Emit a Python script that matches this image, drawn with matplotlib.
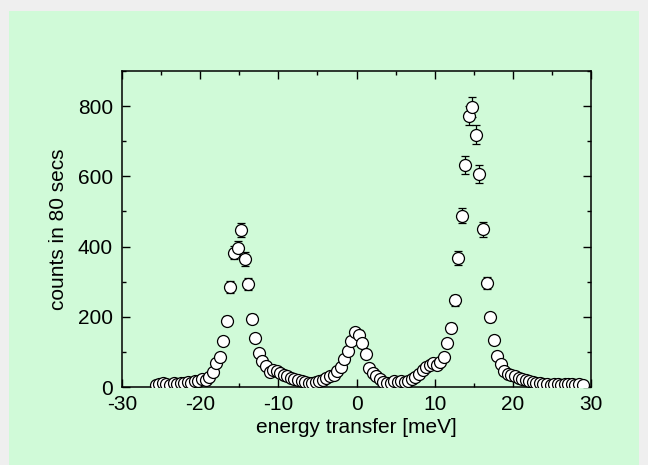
import numpy as np
import matplotlib
matplotlib.use("Agg")
import matplotlib.pyplot as plt
from matplotlib.patches import Rectangle
from matplotlib.ticker import MultipleLocator

plt.rcParams['font.family'] = ['Liberation Sans', 'DejaVu Sans']
plt.rcParams['axes.unicode_minus'] = False

# energy transfer [meV]
energy = [
    -25.68, -25.23, -24.77, -24.32, -23.86, -23.41, -22.95, -22.50, -22.04, -21.59,
    -21.13, -20.68, -20.22, -19.77, -19.31, -18.86, -18.40, -17.95, -17.49, -17.04,
    -16.58, -16.13, -15.67, -15.22, -14.76, -14.31, -13.85, -13.40, -12.94, -12.49,
    -12.03, -11.58, -11.12, -10.67, -10.21, -9.76, -9.30, -8.85, -8.39, -7.94,
    -7.48, -7.03, -6.57, -6.12, -5.66, -5.21, -4.75, -4.30, -3.84, -3.39,
    -2.93, -2.48, -2.02, -1.57, -1.11, -0.66, -0.20, 0.26, 0.71, 1.17,
    1.62, 2.08, 2.53, 2.99, 3.44, 3.90, 4.35, 4.81, 5.26, 5.72,
    6.17, 6.63, 7.08, 7.54, 7.99, 8.45, 8.90, 9.36, 9.81, 10.27,
    10.72, 11.18, 11.63, 12.09, 12.54, 13.00, 13.45, 13.91, 14.36, 14.82,
    15.27, 15.73, 16.18, 16.64, 17.09, 17.55, 18.00, 18.46, 18.91, 19.37,
    19.82, 20.28, 20.73, 21.19, 21.64, 22.10, 22.55, 23.01, 23.46, 23.92,
    24.37, 24.83, 25.28, 25.74, 26.19, 26.65, 27.10, 27.56, 28.01, 28.47,
    28.92,
]

# counts in 80 secs
counts = [
    5, 8, 12, 9, 7, 10, 8, 12, 10, 14,
    12, 18, 16, 22, 20, 28, 42, 67, 85, 131,
    189, 284, 383, 395, 447, 365, 293, 195, 140, 96,
    74, 60, 42, 48, 45, 40, 35, 30, 25, 22,
    20, 18, 15, 12, 10, 15, 18, 20, 25, 30,
    35, 45, 58, 80, 103, 132, 156, 149, 126, 93,
    53, 40, 30, 22, 15, 12, 10, 18, 15, 18,
    14, 17, 22, 28, 38, 48, 56, 62, 67, 62,
    72, 85, 124, 169, 247, 368, 488, 632, 773, 797,
    718, 607, 449, 295, 198, 134, 89, 65, 45, 38,
    35, 30, 26, 22, 20, 16, 14, 12, 10, 8,
    9, 7, 8, 9, 7, 8, 9, 8, 7, 9,
    6,
]

x_ticks = [-30, -20, -10, 0, 10, 20, 30]
y_ticks = [0, 200, 400, 600, 800]

E = np.array(energy)
C = np.array(counts, dtype=float)
err = np.sqrt(C)

W, H = 648, 465
fig = plt.figure(figsize=(W / 100, H / 100), dpi=100, facecolor='#efefef')
green = '#d0fad8'

bg = fig.add_axes([0, 0, 1, 1], zorder=-10)
bg.set_axis_off()
bg.set_xlim(0, W)
bg.set_ylim(H, 0)
bg.add_patch(Rectangle((9, 11), 630, H - 11, facecolor=green, edgecolor='none'))

ax = fig.add_axes([122 / W, (H - 387) / H, 469 / W, 316 / H], zorder=1)
ax.set_facecolor(green)

ax.errorbar(E, C, yerr=err, fmt='none', ecolor='black', elinewidth=0.9,
            capsize=3.2, capthick=0.9, zorder=2)
ax.plot(E, C, linestyle='none', marker='o', markersize=8.6,
        markerfacecolor='white', markeredgecolor='black',
        markeredgewidth=0.9, zorder=3)

ax.set_xlim(-30, 30)
ax.set_ylim(0, 900)
ax.set_xticks(x_ticks)
ax.set_yticks(y_ticks)
ax.xaxis.set_minor_locator(MultipleLocator(5))
ax.yaxis.set_minor_locator(MultipleLocator(100))
ax.tick_params(which='both', direction='in', top=True, right=True,
               labeltop=False, labelright=False, width=1.0, colors='black',
               labelsize=15)
ax.tick_params(which='major', length=5.5)
ax.tick_params(which='minor', length=3)
ax.tick_params(axis='x', which='major', pad=5.5)
ax.tick_params(axis='y', which='major', pad=6.5)
for s in ax.spines.values():
    s.set_linewidth(1.1)

ax.set_xlabel('energy transfer [meV]', fontsize=15, labelpad=3)
ax.set_ylabel('counts in 80 secs', fontsize=15, labelpad=7)

fig.savefig('out.png', dpi=100, facecolor=fig.get_facecolor())
